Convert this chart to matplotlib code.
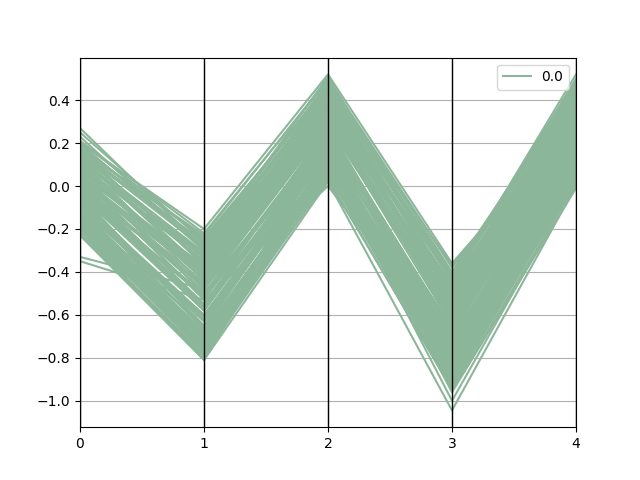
import matplotlib
matplotlib.use("Agg")
import matplotlib.pyplot as plt
import pandas as pd
from pandas.plotting import parallel_coordinates

col0 = [0.20, 0.25, 0.17, 0.27, 0.21, 0.16, 0.23, 0.18,
        0.19, 0.14, 0.21, 0.13, 0.17, 0.20, 0.12, 0.16,
        0.15, 0.11, 0.17, 0.09, 0.14, 0.12, 0.16, 0.08,
        0.10, 0.13, 0.07, 0.11, 0.05, 0.09, 0.12, 0.06,
        0.08, 0.04, 0.10, 0.02, 0.06, 0.09, 0.03, 0.05,
        0.03, 0.06, -0.01, 0.04, 0.00, 0.02, 0.05, -0.33,
        -0.01, 0.02, -0.04, 0.01, -0.35, -0.02, -0.05, 0.00,
        -0.03, -0.07, -0.02, -0.06, -0.04, -0.08, -0.01, -0.05,
        -0.08, -0.05, -0.11, -0.07, -0.10, -0.04, -0.09, -0.12,
        -0.11, -0.14, -0.08, -0.13, -0.15, -0.10, -0.12, -0.16,
        -0.14, -0.17, -0.12, -0.19, -0.15, -0.18, -0.13, -0.20,
        -0.18, -0.21, -0.15, -0.23, -0.19, -0.22, -0.02, -0.20]
col1 = [-0.20, -0.26, -0.23, -0.29, -0.22, -0.26, -0.30, -0.24,
        -0.27, -0.31, -0.25, -0.33, -0.28, -0.30, -0.35, -0.29,
        -0.34, -0.31, -0.37, -0.33, -0.39, -0.32, -0.36, -0.40,
        -0.35, -0.40, -0.38, -0.43, -0.37, -0.41, -0.44, -0.39,
        -0.43, -0.40, -0.46, -0.42, -0.48, -0.44, -0.41, -0.47,
        -0.45, -0.50, -0.47, -0.52, -0.46, -0.49, -0.53, -0.48,
        -0.52, -0.55, -0.50, -0.57, -0.53, -0.56, -0.51, -0.58,
        -0.57, -0.60, -0.55, -0.62, -0.58, -0.61, -0.56, -0.63,
        -0.62, -0.65, -0.60, -0.67, -0.63, -0.66, -0.61, -0.68,
        -0.66, -0.70, -0.67, -0.72, -0.65, -0.71, -0.69, -0.73,
        -0.71, -0.74, -0.70, -0.76, -0.72, -0.75, -0.73, -0.77,
        -0.76, -0.79, -0.75, -0.81, -0.78, -0.80, -0.77, -0.81]
col2 = [0.52, 0.47, 0.50, 0.44, 0.49, 0.46, 0.51, 0.45,
        0.48, 0.43, 0.46, 0.41, 0.47, 0.44, 0.40, 0.45,
        0.40, 0.44, 0.38, 0.42, 0.36, 0.41, 0.39, 0.35,
        0.39, 0.34, 0.37, 0.32, 0.38, 0.35, 0.31, 0.36,
        0.33, 0.36, 0.30, 0.34, 0.28, 0.32, 0.35, 0.29,
        0.31, 0.26, 0.29, 0.24, 0.30, 0.05, 0.27, 0.22,
        0.25, 0.28, 0.21, 0.24, 0.00, 0.23, 0.26, 0.19,
        0.21, 0.18, 0.23, 0.17, 0.20, 0.15, 0.22, 0.16,
        0.17, 0.20, 0.14, 0.18, 0.12, 0.16, 0.19, 0.13,
        0.15, 0.11, 0.18, 0.12, 0.16, 0.09, 0.13, 0.10,
        0.11, 0.08, 0.14, 0.07, 0.10, 0.05, 0.12, 0.06,
        0.08, 0.04, 0.20, 0.02, 0.06, 0.15, 0.03, 0.12]
col3 = [-0.36, -0.42, -0.38, -0.44, -0.40, -0.37, -0.45, -0.41,
        -0.43, -0.47, -0.41, -0.49, -0.45, -0.48, -0.44, -0.50,
        -0.48, -0.52, -0.46, -0.54, -0.50, -0.47, -0.53, -0.51,
        -0.53, -0.57, -0.51, -0.59, -0.55, -0.52, -0.58, -0.56,
        -0.58, -0.62, -0.56, -0.64, -0.60, -0.57, -0.63, -0.61,
        -0.63, -0.67, -0.61, -0.69, -0.65, -0.72, -0.68, -0.66,
        -0.68, -0.72, -0.66, -0.74, -0.75, -0.71, -0.73, -0.70,
        -0.73, -0.77, -0.71, -0.79, -0.75, -0.72, -0.78, -0.76,
        -0.78, -0.82, -0.76, -0.84, -0.80, -0.77, -0.83, -0.81,
        -0.83, -0.87, -0.81, -0.89, -0.85, -0.82, -0.88, -0.86,
        -0.88, -0.92, -0.86, -0.93, -0.90, -0.87, -0.94, -0.91,
        -0.92, -0.95, -0.90, -1.045, -0.93, -0.96, -0.94, -1.00]
col4 = [0.30, 0.49, 0.33, 0.52, 0.46, 0.28, 0.50, 0.44,
        0.47, 0.43, 0.45, 0.40, 0.48, 0.42, 0.44, 0.39,
        0.41, 0.38, 0.43, 0.36, 0.40, 0.37, 0.42, 0.35,
        0.37, 0.33, 0.39, 0.31, 0.36, 0.34, 0.38, 0.32,
        0.32, 0.29, 0.34, 0.27, 0.31, 0.28, 0.33, 0.26,
        0.28, 0.25, 0.30, 0.23, 0.27, 0.24, 0.29, 0.22,
        0.24, 0.21, 0.26, 0.19, 0.23, 0.20, 0.25, 0.18,
        0.20, 0.17, 0.22, 0.15, 0.19, 0.16, 0.21, 0.14,
        0.16, 0.13, 0.18, 0.11, 0.15, 0.12, 0.17, 0.10,
        0.12, 0.09, 0.14, 0.07, 0.11, 0.08, 0.13, 0.06,
        0.08, 0.05, 0.10, 0.03, 0.07, 0.04, 0.09, 0.02,
        0.04, 0.01, 0.06, 0.00, 0.03, -0.01, 0.05, 0.02]
labels = [0.0] * len(col0)

df = pd.DataFrame({"0": col0, "1": col1, "2": col2, "3": col3, "4": col4, "class": labels})

fig, ax = plt.subplots(figsize=(6.4, 4.8), dpi=100)
parallel_coordinates(df, "class", ax=ax, color=[(0.5488, 0.7152, 0.6028)])
fig.savefig("out.png", dpi=100)
